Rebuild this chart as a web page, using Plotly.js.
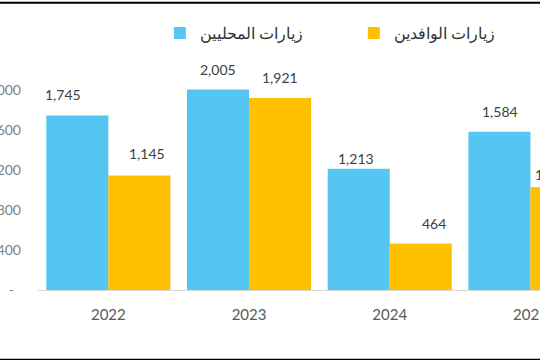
<!DOCTYPE html>
<html>
<head>
<meta charset="utf-8">
<script src="https://cdn.plot.ly/plotly-3.0.1.min.js"></script>
<style>
  html, body { margin: 0; padding: 0; background: #fff; overflow: hidden; }
  #chart { width: 540px; height: 360px; }
</style>
</head>
<body>
<div id="chart"></div>
<script>
// ---- data ----
const years = ['2022', '2023', '2024', '2025'];
const localVisits = [1745, 2005, 1213, 1584];
const visitorVisits = [1145, 1921, 464, 1030];
const seriesNames = ['زيارات المحليين', 'زيارات الوافدين'];
const yTickValues = [0, 400, 800, 1200, 1600, 2000];
const yTickLabels = ['-\u00a0\u00a0', '400', '800', '1,200', '1,600', '2,000'];

// ---- style ----
const blue = '#55C6F2';
const gold = '#FFC000';
const numFont = 'Lato, "Open Sans", sans-serif';
// label nudges (px) per series, per category: [dx, dy]
const labelNudge = [
  [[-14, 21], [0, 20], [-3, 10], [1, 20]],
  [[8, 22], [0, 21], [13, 20], [-8, 13]]
];

const fmt = v => String(v).replace(/\B(?=(\d{3})+(?!\d))/g, ',');

const traces = [
  { type: 'bar', name: seriesNames[0], x: years, y: localVisits,
    marker: { color: blue }, hoverinfo: 'x+y' },
  { type: 'bar', name: seriesNames[1], x: years, y: visitorVisits,
    marker: { color: gold }, hoverinfo: 'x+y' }
];

const annotations = [];
[localVisits, visitorVisits].forEach((vals, s) => {
  vals.forEach((v, i) => {
    annotations.push({
      x: i, y: v, xref: 'x', yref: 'y',
      text: fmt(v), showarrow: false,
      xanchor: 'center', yanchor: 'middle',
      xshift: (s === 0 ? -31 : 31) + labelNudge[s][i][0],
      yshift: labelNudge[s][i][1],
      font: { family: numFont, size: 14, color: '#404040' }
    });
  });
});

const layout = {
  width: 540, height: 360,
  margin: { l: 38, r: 0, t: 47, b: 70, pad: 0 },
  paper_bgcolor: '#ffffff', plot_bgcolor: '#ffffff',
  barmode: 'group', bargap: 0.118, bargroupgap: 0,
  showlegend: true,
  legend: {
    orientation: 'h', xref: 'container', yref: 'container',
    x: 0.296, xanchor: 'left', y: 0.908, yanchor: 'middle',
    entrywidth: 149, entrywidthmode: 'pixels',
    font: { family: '"Liberation Sans", Arial, sans-serif', size: 16, color: '#333333' },
    bgcolor: 'rgba(0,0,0,0)'
  },
  xaxis: {
    type: 'category', range: [-0.5, 3.068], fixedrange: true,
    showline: true, linecolor: '#d9d9d9', linewidth: 1,
    showgrid: false, ticks: '', ticklabelstandoff: 11,
    tickfont: { family: numFont, size: 15, color: '#595959' }
  },
  yaxis: {
    range: [0, 2400], fixedrange: true,
    showgrid: false, zeroline: false, showline: false, ticks: '',
    tickmode: 'array', tickvals: yTickValues, ticktext: yTickLabels,
    ticklabelstandoff: 16,
    tickfont: { family: numFont, size: 14, color: '#7f7f7f' }
  },
  annotations: annotations,
  shapes: [
    { type: 'line', xref: 'paper', yref: 'paper', x0: -0.1, x1: 1.01,
      y0: 1.197, y1: 1.197, line: { color: '#000000', width: 2 } },
    { type: 'line', xref: 'paper', yref: 'paper', x0: -0.1, x1: 1.01,
      y0: -0.291, y1: -0.291, line: { color: '#000000', width: 2 } }
  ]
};

Plotly.newPlot('chart', traces, layout, { displayModeBar: false, staticPlot: true });
</script>
</body>
</html>
